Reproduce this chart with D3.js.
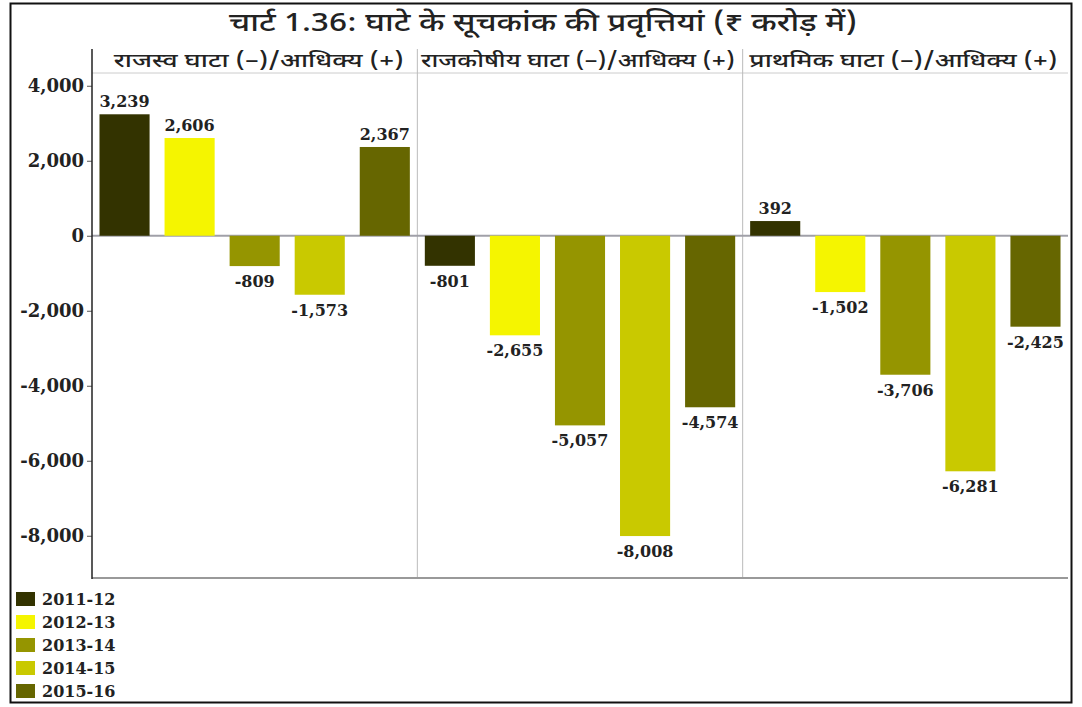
<!DOCTYPE html>
<html>
<head>
<meta charset="utf-8">
<script src="https://cdn.jsdelivr.net/npm/d3@7"></script>
<style>
  body { margin: 0; background: #fff; }
  .deva { font-family: "Noto Sans Devanagari", "Noto Sans", "DejaVu Sans", sans-serif; }
  .num { font-family: "DejaVu Serif", "Liberation Serif", serif; font-weight: bold; }
</style>
</head>
<body>
<script>
const title = "चार्ट 1.36: घाटे के सूचकांक की प्रवृत्तियां (₹ करोड़ में)";
const panels = [
  "राजस्व घाटा (–)/आधिक्य (+)",
  "राजकोषीय घाटा (–)/आधिक्य (+)",
  "प्राथमिक घाटा (–)/आधिक्य (+)"
];
const years = ["2011-12", "2012-13", "2013-14", "2014-15", "2015-16"];
const colors = ["#333300", "#f5f500", "#959500", "#c9c900", "#666600"];
const revenue = [3239, 2606, -809, -1573, 2367];
const fiscal = [-801, -2655, -5057, -8008, -4574];
const primary = [392, -1502, -3706, -6281, -2425];
const yTicks = [4000, 2000, 0, -2000, -4000, -6000, -8000];

const series = [revenue, fiscal, primary];
const width = 1082, height = 707;
const plot = { left: 92, right: 1068, top: 73, bottom: 577, headTop: 49 };

const svg = d3.select("body").append("svg")
  .attr("width", width).attr("height", height);

// outer frame
svg.append("rect")
  .attr("x", 10.5).attr("y", 3.5)
  .attr("width", 1061).attr("height", 699)
  .attr("fill", "#fff").attr("stroke", "#111").attr("stroke-width", 2);

const fmt = d3.format(",");
const label = v => fmt(v).replace("−", "-");

const y = d3.scaleLinear().domain([-9100, 4340]).range([plot.bottom, plot.top]);
const px = d3.scaleBand().domain(d3.range(panels.length))
  .range([plot.left, plot.right]);
const x = d3.scaleBand().domain(years)
  .range([0, px.bandwidth()])
  .paddingInner(0.23).paddingOuter(0.115);

// title, stretched to the width it has in the original
svg.append("text").attr("class", "deva")
  .attr("x", 543).attr("y", 31)
  .attr("text-anchor", "middle")
  .attr("font-size", 25).attr("font-weight", 500).attr("fill", "#222")
  .attr("textLength", 628).attr("lengthAdjust", "spacingAndGlyphs")
  .text(title);

// header strip line and bottom edge
svg.append("line")
  .attr("x1", plot.left).attr("x2", plot.right)
  .attr("y1", plot.top).attr("y2", plot.top)
  .attr("stroke", "#ccc");
svg.append("line")
  .attr("x1", plot.left).attr("x2", plot.right)
  .attr("y1", plot.bottom + 1).attr("y2", plot.bottom + 1)
  .attr("stroke", "#999").attr("stroke-width", 2);

// panel dividers
svg.selectAll(".divider")
  .data(d3.range(1, panels.length))
  .enter().append("line")
  .attr("class", "divider")
  .attr("x1", d => px(d)).attr("x2", d => px(d))
  .attr("y1", plot.headTop).attr("y2", plot.bottom)
  .attr("stroke", "#bbb");

// zero line
svg.append("line")
  .attr("x1", plot.left).attr("x2", plot.right)
  .attr("y1", y(0)).attr("y2", y(0))
  .attr("stroke", "#a0a0a8").attr("stroke-width", 2);

const headW = [290, 314, 308];

panels.forEach((name, i) => {
  svg.append("text").attr("class", "deva")
    .attr("x", px(i) + px.bandwidth() / 2 + (i === 0 ? 4 : -2)).attr("y", 67)
    .attr("text-anchor", "middle")
    .attr("font-size", 19).attr("font-weight", 500).attr("fill", "#222")
    .attr("textLength", headW[i]).attr("lengthAdjust", "spacingAndGlyphs")
    .text(name);

  const g = svg.append("g").attr("transform", `translate(${px(i)},0)`);
  const data = series[i].map((v, j) => ({ year: years[j], value: v, color: colors[j] }));

  g.selectAll("rect")
    .data(data)
    .enter().append("rect")
    .attr("x", d => x(d.year))
    .attr("width", x.bandwidth())
    .attr("y", d => y(Math.max(0, d.value)))
    .attr("height", d => Math.abs(y(d.value) - y(0)))
    .attr("fill", d => d.color);

  g.selectAll(".val")
    .data(data)
    .enter().append("text")
    .attr("class", "num val")
    .attr("x", d => x(d.year) + x.bandwidth() / 2)
    .attr("y", d => d.value >= 0 ? y(d.value) - 7 : y(d.value) + 21)
    .attr("text-anchor", "middle")
    .attr("font-size", 16).attr("fill", "#222")
    .text(d => label(d.value));
});

// y axis
const axis = svg.append("g")
  .attr("transform", `translate(${plot.left},0)`)
  .call(d3.axisLeft(y).tickValues(yTicks).tickSize(5).tickPadding(3)
    .tickFormat(label));
axis.select(".domain").remove();
axis.selectAll(".tick line").attr("stroke", "#555");
axis.selectAll(".tick text")
  .attr("class", "num").attr("font-size", 18).attr("fill", "#222");
svg.append("line")
  .attr("x1", plot.left).attr("x2", plot.left)
  .attr("y1", plot.headTop).attr("y2", plot.bottom + 2)
  .attr("stroke", "#222").attr("stroke-width", 1.5);

// legend
const legend = svg.selectAll(".legend")
  .data(years)
  .enter().append("g")
  .attr("class", "legend")
  .attr("transform", (d, i) => `translate(16,${592 + i * 23})`);
legend.append("rect")
  .attr("width", 19).attr("height", 14)
  .attr("fill", (d, i) => colors[i]);
legend.append("text")
  .attr("class", "num")
  .attr("x", 26).attr("y", 13)
  .attr("font-size", 16).attr("fill", "#222")
  .text(d => d);
</script>
</body>
</html>
